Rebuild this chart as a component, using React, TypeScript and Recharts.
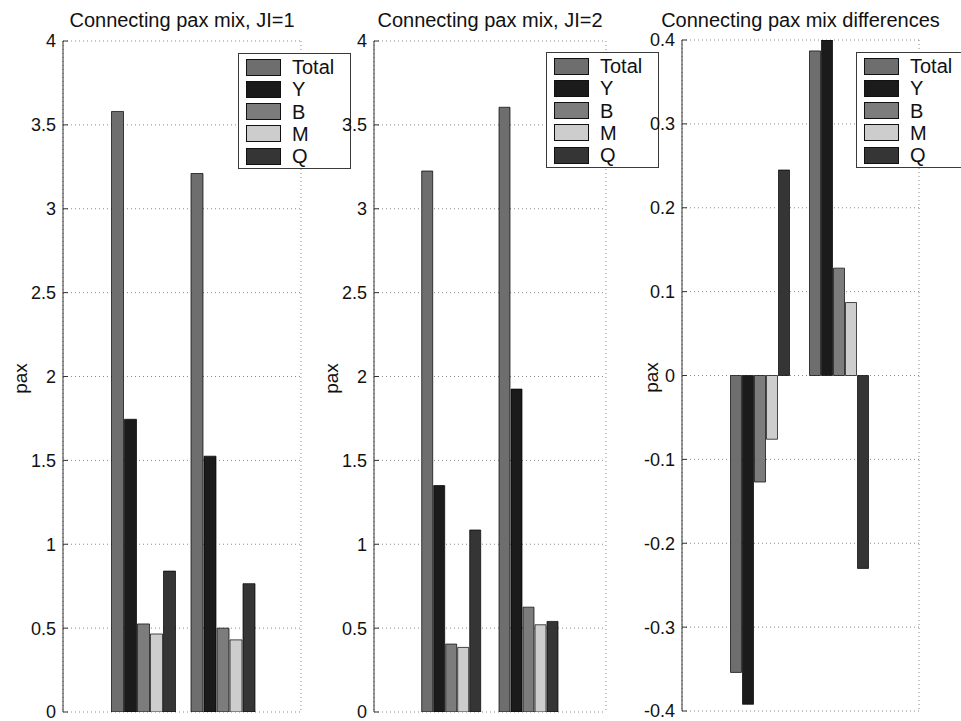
import { Bar, BarChart, CartesianGrid, Legend, XAxis, YAxis } from "recharts";

const groups = ["1", "2"];
const seriesNames = ["Total", "Y", "B", "M", "Q"];
const seriesColors = ["#6e6e6e", "#1b1b1b", "#7c7c7c", "#cdcdcd", "#353535"];

// JI=1
const ji1Total = [3.58, 3.21];
const ji1Y = [1.745, 1.525];
const ji1B = [0.525, 0.5];
const ji1M = [0.465, 0.43];
const ji1Q = [0.84, 0.765];

// JI=2
const ji2Total = [3.225, 3.605];
const ji2Y = [1.35, 1.925];
const ji2B = [0.405, 0.625];
const ji2M = [0.385, 0.52];
const ji2Q = [1.085, 0.54];

// differences
const diffTotal = [-0.354, 0.387];
const diffY = [-0.392, 0.4];
const diffB = [-0.127, 0.128];
const diffM = [-0.076, 0.087];
const diffQ = [0.245, -0.23];

const paxTicks = [0, 0.5, 1, 1.5, 2, 2.5, 3, 3.5, 4];
const diffTicks = [-0.4, -0.3, -0.2, -0.1, 0, 0.1, 0.2, 0.3, 0.4];

const FONT = "'Liberation Sans', Arial, Helvetica, sans-serif";

function toRows(series: number[][]) {
  return groups.map((g, i) => {
    const row: Record<string, string | number> = { group: g };
    seriesNames.forEach((name, k) => {
      row[name] = series[k][i];
    });
    return row;
  });
}

function LegendBox() {
  return (
    <div
      style={{
        boxSizing: "border-box",
        width: 113,
        height: 116,
        border: "1px solid #3a3a3a",
        background: "#fff",
        paddingTop: 2,
        paddingLeft: 7,
        fontFamily: FONT,
      }}
    >
      {seriesNames.map((name, k) => (
        <div key={name} style={{ display: "flex", alignItems: "center", height: 22.25 }}>
          <span
            style={{
              display: "inline-block",
              width: 35,
              height: 17,
              boxSizing: "border-box",
              border: "1px solid #111",
              background: seriesColors[k],
            }}
          />
          <span style={{ marginLeft: 11, fontSize: 20, lineHeight: "20px", color: "#111" }}>{name}</span>
        </div>
      ))}
    </div>
  );
}

type PanelProps = {
  x: number;
  width: number;
  margin: { top: number; right: number; bottom: number; left: number };
  pad: number;
  title: string;
  data: Record<string, string | number>[];
  ticks: number[];
  legendLeft: number;
  legendTop: number;
  paxX: number;
};

function Panel({ x, width, margin, pad, title, data, ticks, legendLeft, legendTop, paxX }: PanelProps) {
  const domain: [number, number] = [ticks[0], ticks[ticks.length - 1]];
  const plotLeft = margin.left + 40;
  const plotCenter = plotLeft + (width - plotLeft - margin.right) / 2;
  const tickStyle = { fontSize: 18, fill: "#111", fontFamily: FONT };
  return (
    <div style={{ position: "absolute", left: x, top: 0, width, height: 721 }}>
      <div
        style={{
          position: "absolute",
          left: plotCenter - 160,
          width: 320,
          top: 10,
          textAlign: "center",
          fontSize: 20,
          lineHeight: "20px",
          color: "#111",
          fontFamily: FONT,
          whiteSpace: "nowrap",
        }}
      >
        {title}
      </div>
      <BarChart width={width} height={721} data={data} margin={margin} barCategoryGap={9} barGap={1}>
        <CartesianGrid stroke="#8a8a8a" strokeDasharray="1 3" />
        <XAxis
          dataKey="group"
          height={0}
          padding={{ left: pad, right: pad }}
          tick={false}
          tickSize={-5}
          stroke="#333"
        />
        <XAxis
          xAxisId="top"
          orientation="top"
          dataKey="group"
          height={0}
          padding={{ left: pad, right: pad }}
          tick={false}
          tickSize={-5}
          stroke="#333"
        />
        <YAxis
          type="number"
          width={40}
          domain={domain}
          ticks={ticks}
          allowDataOverflow
          interval={0}
          tickSize={-5}
          tickMargin={12}
          tick={tickStyle}
          stroke="#333"
          label={(props: any) => {
            const vb = props.viewBox;
            const cy = vb.y + vb.height / 2 + 2;
            return (
              <text
                x={paxX}
                y={cy}
                transform={`rotate(-90 ${paxX} ${cy})`}
                textAnchor="middle"
                dominantBaseline="central"
                fontSize={19}
                fill="#111"
                fontFamily={FONT}
              >
                pax
              </text>
            );
          }}
        />
        <YAxis
          yAxisId="right"
          orientation="right"
          type="number"
          width={0}
          domain={domain}
          ticks={ticks}
          allowDataOverflow
          interval={0}
          tick={false}
          tickSize={-5}
          stroke="#333"
        />
        <Legend
          layout="vertical"
          align="center"
          verticalAlign="middle"
          wrapperStyle={{ left: legendLeft, top: legendTop, width: 113, height: 116 }}
          content={() => <LegendBox />}
        />
        {seriesNames.map((name, k) => (
          <Bar
            key={name}
            dataKey={name}
            fill={seriesColors[k]}
            stroke="#000"
            strokeWidth={0.7}
            isAnimationActive={false}
          />
        ))}
      </BarChart>
    </div>
  );
}

export default function App() {
  return (
    <div
      style={{
        position: "absolute",
        left: 0,
        top: 0,
        width: 961,
        height: 721,
        overflow: "hidden",
        background: "#fff",
      }}
    >
      <Panel
        x={0}
        width={320}
        margin={{ top: 41, right: 19, bottom: 9, left: 23 }}
        pad={39.5}
        title="Connecting pax mix, JI=1"
        data={toRows([ji1Total, ji1Y, ji1B, ji1M, ji1Q])}
        ticks={paxTicks}
        legendLeft={238}
        legendTop={53}
        paxX={20}
      />
      <Panel
        x={320}
        width={320}
        margin={{ top: 41, right: 34, bottom: 9, left: 14 }}
        pad={38.7}
        title="Connecting pax mix, JI=2"
        data={toRows([ji2Total, ji2Y, ji2B, ji2M, ji2Q])}
        ticks={paxTicks}
        legendLeft={226}
        legendTop={52}
        paxX={11}
      />
      <Panel
        x={640}
        width={321}
        margin={{ top: 40, right: 42, bottom: 10, left: 2 }}
        pad={39.5}
        title="Connecting pax mix differences"
        data={toRows([diffTotal, diffY, diffB, diffM, diffQ])}
        ticks={diffTicks}
        legendLeft={216}
        legendTop={52}
        paxX={11}
      />
    </div>
  );
}
